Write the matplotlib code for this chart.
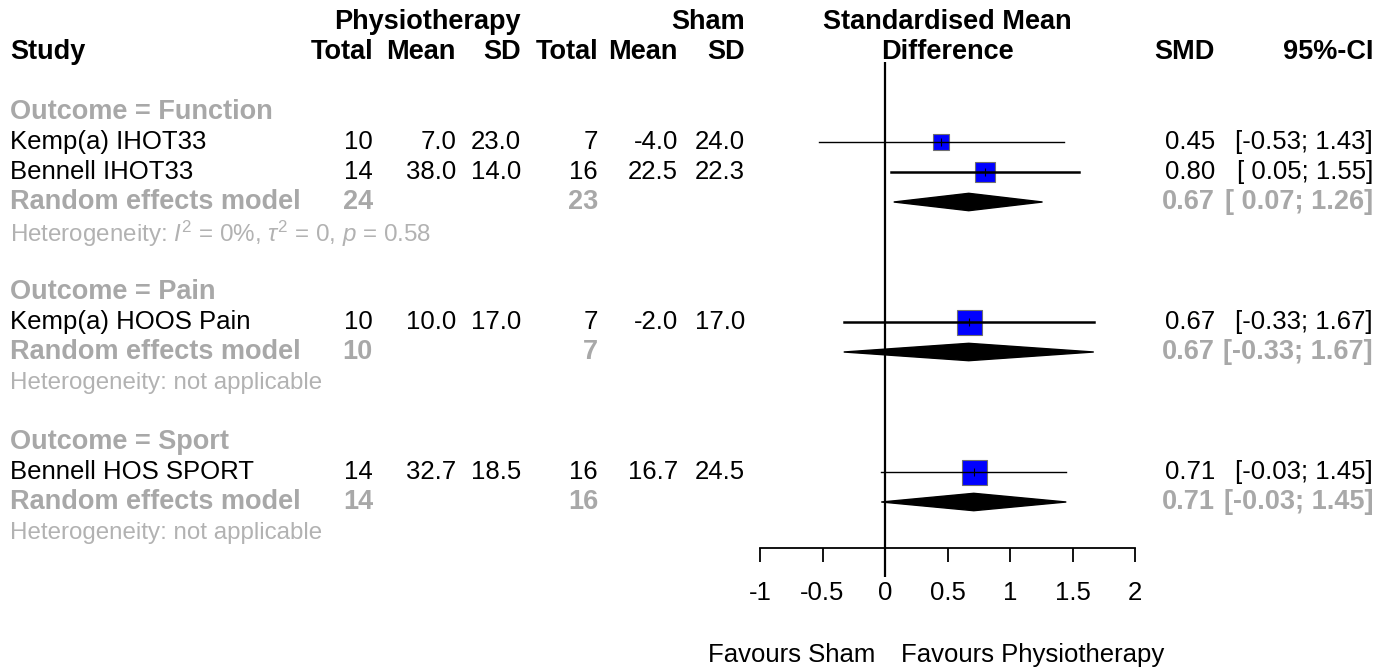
import numpy as np
import matplotlib
matplotlib.use("Agg")
import matplotlib.pyplot as plt
from matplotlib.transforms import blended_transform_factory

# study level data
studies = ["Kemp(a) IHOT33", "Bennell IHOT33", "Kemp(a) HOOS Pain", "Bennell HOS SPORT"]
outcome = ["Function", "Function", "Pain", "Sport"]
nPhys = [10, 14, 10, 14]
meanPhys = [7.0, 38.0, 10.0, 32.7]
sdPhys = [23.0, 14.0, 17.0, 18.5]
nSham = [7, 16, 7, 16]
meanSham = [-4.0, 22.5, -2.0, 16.7]
sdSham = [24.0, 22.3, 17.0, 24.5]
smd = [0.45, 0.80, 0.67, 0.71]
ciLow = [-0.53, 0.05, -0.33, -0.03]
ciHigh = [1.43, 1.55, 1.67, 1.45]

# subgroup (random effects) results
groups = ["Function", "Pain", "Sport"]
reSmd = [0.67, 0.67, 0.71]
reLow = [0.07, -0.33, -0.03]
reHigh = [1.26, 1.67, 1.45]
hetText = [r"Heterogeneity: $I^2$ = 0%, $\tau^2$ = 0, $p$ = 0.58",
           "Heterogeneity: not applicable",
           "Heterogeneity: not applicable"]

xTicks = [-1, -0.5, 0, 0.5, 1, 1.5, 2]
xTickLabels = ["-1", "-0.5", "0", "0.5", "1", "1.5", "2"]

plt.rcParams["font.family"] = ["Liberation Sans", "DejaVu Sans"]
plt.rcParams["mathtext.fontset"] = "custom"
plt.rcParams["mathtext.rm"] = "Liberation Sans"
plt.rcParams["mathtext.it"] = "Liberation Sans:italic"
GREY = "#a8a8a8"
HETGREY = "#b2b2b2"
W, H = 1391, 669
FS = 18.5   # regular text
FB = 19.5   # bold text

fig = plt.figure(figsize=(W / 100, H / 100), dpi=100)
ax = fig.add_axes([0, 0, 1, 1])
# 125 px per SMD unit, -1 sits at x = 760 px; rows are 30 px apart, row 0 at y = 22 px
ax.set_xlim(-1 - 760 / 125, 2 + (W - 1135) / 125)
ax.set_ylim((H - 22) / 30, -22 / 30)

tr = blended_transform_factory(fig.transFigure, ax.transData)
def px(x):
    return x / W

# column right edges in pixels
colTotP, colMeanP, colSdP = 373, 456, 521
colTotS, colMeanS, colSdS = 598, 678, 745
colSmd, colCi = 1215, 1373

# headers
hb = dict(fontsize=FB, fontweight="bold", va="center", transform=tr)
ax.text(px(10), 1, "Study", ha="left", **hb)
ax.text(px(colSdP), 0, "Physiotherapy", ha="right", **hb)
ax.text(px(colSdS), 0, "Sham", ha="right", **hb)
for c, lab in zip([colTotP, colMeanP, colSdP, colTotS, colMeanS, colSdS],
                  ["Total", "Mean", "SD", "Total", "Mean", "SD"]):
    ax.text(px(c), 1, lab, ha="right", **hb)
ax.text(0.5, 0, "Standardised Mean", ha="center", va="center", fontsize=FB, fontweight="bold")
ax.text(0.5, 1, "Difference", ha="center", va="center", fontsize=FB, fontweight="bold")
ax.text(px(colSmd), 1, "SMD", ha="right", **hb)
ax.text(px(colCi), 1, "95%-CI", ha="right", **hb)

def ciStr(lo, hi):
    return f"[{lo:5.2f}; {hi:.2f}]"

lineW = [1.0, 1.8, 1.8, 1.0]

row = 3
for g, grp in enumerate(groups):
    idx = [i for i in range(len(studies)) if outcome[i] == grp]
    ax.text(px(10), row, "Outcome = " + grp, ha="left", va="center", fontsize=FB,
            fontweight="bold", color=GREY, transform=tr)
    row += 1
    se = np.array([(ciHigh[i] - ciLow[i]) / 3.92 for i in idx])
    wts = (1 / se ** 2) / np.sum(1 / se ** 2)
    for k, i in enumerate(idx):
        t = dict(fontsize=FS, va="center", transform=tr)
        ax.text(px(10), row, studies[i], ha="left", **t)
        ax.text(px(colTotP), row, f"{nPhys[i]}", ha="right", **t)
        ax.text(px(colMeanP), row, f"{meanPhys[i]:.1f}", ha="right", **t)
        ax.text(px(colSdP), row, f"{sdPhys[i]:.1f}", ha="right", **t)
        ax.text(px(colTotS), row, f"{nSham[i]}", ha="right", **t)
        ax.text(px(colMeanS), row, f"{meanSham[i]:.1f}", ha="right", **t)
        ax.text(px(colSdS), row, f"{sdSham[i]:.1f}", ha="right", **t)
        ax.text(px(colSmd), row, f"{smd[i]:.2f}", ha="right", **t)
        ax.text(px(colCi), row, ciStr(ciLow[i], ciHigh[i]), ha="right", **t)

        side = 25 * np.sqrt(wts[k]) * 0.72
        ax.plot(smd[i], row, marker="s", ms=side, mfc="#0000ff", mec="#707070", mew=0.8,
                zorder=3)
        ax.plot([ciLow[i], ciHigh[i]], [row, row], color="black", lw=lineW[i], zorder=4)
        ax.plot(smd[i], row, marker="|", ms=6, color="black", mew=0.8, zorder=5)
        row += 1

    # random effects row
    r = dict(fontsize=FB, fontweight="bold", va="center", color=GREY, transform=tr)
    ax.text(px(10), row, "Random effects model", ha="left", **r)
    ax.text(px(colTotP), row, f"{sum(nPhys[i] for i in idx)}", ha="right", **r)
    ax.text(px(colTotS), row, f"{sum(nSham[i] for i in idx)}", ha="right", **r)
    ax.text(px(colSmd), row, f"{reSmd[g]:.2f}", ha="right", **r)
    ax.text(px(colCi), row, ciStr(reLow[g], reHigh[g]), ha="right", **r)
    hd = 0.29
    ax.fill([reLow[g], reSmd[g], reHigh[g], reSmd[g]], [row, row - hd, row, row + hd],
            color="black", lw=1, zorder=3)
    row += 1
    ax.text(px(10), row + 0.05, hetText[g], ha="left", va="center", fontsize=17.4,
            color=HETGREY, transform=tr)
    row += 2

axisRow = (548 - 22) / 30
ax.vlines(0, (62 - 22) / 30, (577 - 22) / 30, color="black", lw=1.6, zorder=2)

for s in ["top", "left", "right"]:
    ax.spines[s].set_visible(False)
ax.spines["bottom"].set_position(("data", axisRow))
ax.spines["bottom"].set_bounds(xTicks[0], xTicks[-1])
ax.spines["bottom"].set_linewidth(1.3)
ax.set_xticks(xTicks)
ax.set_xticklabels(xTickLabels, fontsize=FS)
ax.tick_params(axis="x", direction="out", length=10, width=1.3, pad=14)
ax.set_yticks([])

favRow = (655 - 22) / 30
ax.text(-0.08, favRow, "Favours Sham", ha="right", va="center", fontsize=FS)
ax.text(0.13, favRow, "Favours Physiotherapy", ha="left", va="center", fontsize=FS)

plt.savefig("out.png", dpi=100)
